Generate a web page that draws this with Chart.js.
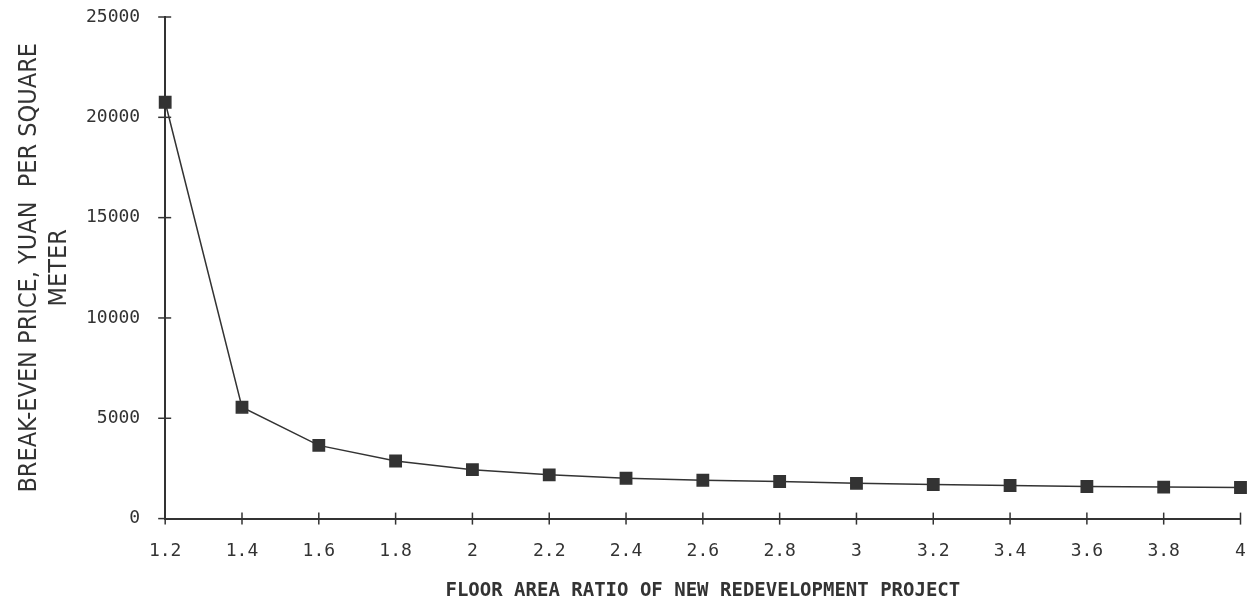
<!DOCTYPE html>
<html>
<head>
<meta charset="utf-8">
<script src="https://cdn.jsdelivr.net/npm/chart.js@4"></script>
<style>
  html, body { margin: 0; padding: 0; background: #fff; }
  #wrap { width: 1250px; height: 602px; }
</style>
</head>
<body>
<div id="wrap"><canvas id="chart" width="1250" height="602"></canvas></div>
<script>
// Break-even price vs floor area ratio
const ratios = [1.2, 1.4, 1.6, 1.8, 2.0, 2.2, 2.4, 2.6, 2.8, 3.0, 3.2, 3.4, 3.6, 3.8, 4.0];
const prices = [20750, 5550, 3650, 2870, 2440, 2180, 2010, 1910, 1850, 1760, 1700, 1650, 1600, 1570, 1550];
const yTitle = ['BREAK-EVEN PRICE, YUAN  PER SQUARE', 'METER'];
const xTitle = 'FLOOR AREA RATIO OF NEW REDEVELOPMENT PROJECT';

const ink = '#333';

// tick marks drawn across the axis line, half each side
const crossTicks = {
  id: 'crossTicks',
  afterDraw(chart) {
    const { ctx, scales: { x, y } } = chart;
    ctx.save();
    ctx.strokeStyle = ink;
    ctx.lineWidth = 1.5;
    x.ticks.forEach(t => {
      const px = x.getPixelForValue(t.value);
      ctx.beginPath();
      ctx.moveTo(px, y.bottom + 6);
      ctx.lineTo(px, y.bottom - 6);
      ctx.stroke();
    });
    y.ticks.forEach(t => {
      const py = y.getPixelForValue(t.value);
      ctx.beginPath();
      ctx.moveTo(x.left - 7, py);
      ctx.lineTo(x.left + (t.value === 0 ? 0 : 6), py);
      ctx.stroke();
    });
    ctx.restore();
  }
};

new Chart(document.getElementById('chart'), {
  type: 'line',
  data: {
    datasets: [{
      data: ratios.map((r, i) => ({ x: r, y: prices[i] })),
      borderColor: ink,
      backgroundColor: ink,
      borderWidth: 1.5,
      tension: 0,
      clip: false,
      pointStyle: 'rect',
      pointRadius: 8,
      pointHoverRadius: 8
    }]
  },
  options: {
    responsive: false,
    animation: false,
    layout: { padding: { left: 14, right: 0, top: 17, bottom: 0 } },
    plugins: { legend: { display: false }, tooltip: { enabled: false } },
    scales: {
      x: {
        type: 'linear',
        min: 1.2,
        max: 4,
        ticks: {
          stepSize: 0.2,
          color: ink,
          padding: 3,
          maxRotation: 0,
          font: { family: 'DejaVu Sans Mono', size: 18 },
          callback: v => String(Math.round(v * 10) / 10)
        },
        grid: { drawOnChartArea: false, tickLength: 19, tickColor: 'rgba(0,0,0,0)' },
        border: { color: ink, width: 2 },
        title: {
          display: true,
          text: xTitle,
          color: ink,
          padding: { top: 14, bottom: 0 },
          font: { family: 'DejaVu Sans Mono', size: 19, weight: 'bold' }
        }
      },
      y: {
        min: 0,
        max: 25000,
        ticks: {
          stepSize: 5000,
          color: ink,
          padding: 5,
          font: { family: 'DejaVu Sans Mono', size: 18 },
          callback: v => String(v)
        },
        grid: { drawOnChartArea: false, tickLength: 20, tickColor: 'rgba(0,0,0,0)' },
        border: { color: ink, width: 2 },
        title: {
          display: true,
          text: yTitle,
          color: ink,
          padding: { top: 0, bottom: 7 },
          font: { family: '"Liberation Sans Narrow", "DejaVu Sans Condensed", sans-serif', size: 25, lineHeight: 1.2 }
        }
      }
    }
  },
  plugins: [crossTicks]
});
</script>
</body>
</html>
